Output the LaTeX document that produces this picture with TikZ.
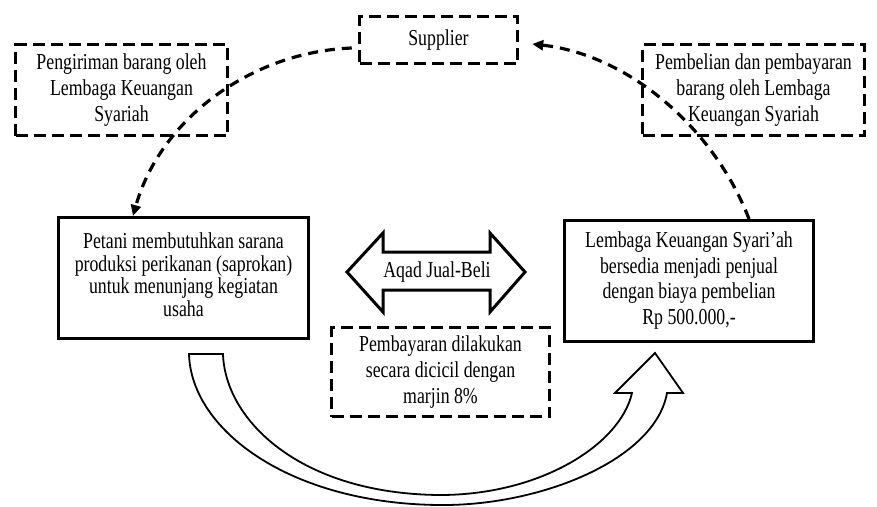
\documentclass[tikz,border=0pt]{standalone}
\usepackage{fontspec}
\setmainfont{Liberation Serif}
\usetikzlibrary{arrows.meta}
% tall, narrow lettering: text set at 17.8pt and stretched vertically
\newcommand\talltext[2][20.3]{\scalebox{1}[1.28]{\fontsize{17.8}{#1}\selectfont
  \begin{tabular}{@{}c@{}}#2\end{tabular}}}
\begin{document}
\begin{tikzpicture}[x=1pt,y=-1pt,
  txt/.style={align=center, inner sep=0pt},
  solidbox/.style={txt, draw, line width=3pt},
  dashbox/.style={txt, draw, line width=3.5pt, dash pattern=on 12pt off 6pt},
  flow/.style={line width=3.2pt, dash pattern=on 10pt off 7pt,
    -{Triangle[length=11pt,width=10pt]}},
  bigarrow/.style={draw, fill=white, line width=1.8pt, line join=miter},
]
\useasboundingbox (0,0) rectangle (877,506);

% dashed boxes along the top
\node[dashbox, minimum width=158pt, minimum height=47pt] (sup) at (438.5,40)
  {\talltext{Supplier}};
\node[dashbox, minimum width=212pt, minimum height=91pt] (kirim) at (121.5,90)
  {\talltext{Pengiriman barang oleh\\Lembaga Keuangan\\Syariah}};
\node[dashbox, minimum width=222pt, minimum height=91pt] (beli) at (753.5,90)
  {\talltext{Pembelian dan pembayaran\\barang oleh Lembaga\\Keuangan Syariah}};

% the two parties
\node[solidbox, minimum width=250pt, minimum height=121pt] (pet) at (183.5,278)
  {\talltext[17.7]{Petani membutuhkan sarana\\produksi perikanan (saprokan)\\untuk menunjang kegiatan\\usaha}};
\node[solidbox, minimum width=249pt, minimum height=121pt] (lem) at (689,281)
  {\talltext[19.9]{Lembaga Keuangan Syari'ah\\bersedia menjadi penjual\\dengan biaya pembelian\\Rp 500.000,-}};

% payment terms
\node[dashbox, minimum width=218pt, minimum height=89pt] (bayar) at (440.5,372)
  {\talltext{Pembayaran dilakukan\\secara dicicil dengan\\marjin 8\%}};

% sale contract double arrow
\draw[line width=3pt, line join=miter, fill=white]
  (347,272) -- (383,233) -- (383,252) -- (490,252) -- (490,233) -- (525,272)
  -- (490,312) -- (490,290) -- (383,290) -- (383,312) -- cycle;
\node[txt] (aqad) at (437,272) {\talltext{Aqad Jual-Beli}};

% goods flow
\draw[flow] ([shift={(-6,8)}]sup.west) .. controls (250,52) and (160,120) .. ([xshift=-50.5pt]pet.north);
\draw[flow] ([xshift=60pt]lem.north) .. controls (715,130) and (630,55) .. ([shift={(13,4)}]sup.east);

% hollow curved arrow from farmer to institution
\coordinate (cs) at ([shift={(5.5,14)}]pet.south);
\coordinate (ct) at ([shift={(-34,10)}]lem.south);
\draw[bigarrow]
  (cs) .. controls (191,430) and (290,504) .. (440,505)
  .. controls (540,506) and (655,460) .. ([shift={(12,40)}]ct)
  -- ([shift={(28,40)}]ct) -- (ct) -- ([shift={(-40,40)}]ct) -- ([shift={(-23,40)}]ct)
  .. controls (620,445) and (540,495) .. (440,495)
  .. controls (300,494) and (225,420) .. ([xshift=34pt]cs) -- cycle;
\end{tikzpicture}
\end{document}
